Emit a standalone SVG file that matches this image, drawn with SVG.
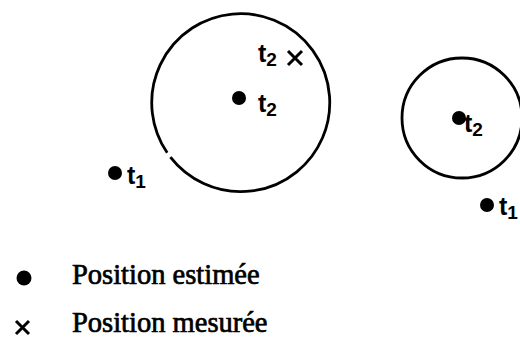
<svg xmlns="http://www.w3.org/2000/svg" width="520" height="342" viewBox="0 0 520 342">
<style>
.c{fill:none;stroke:#000;stroke-width:2.8}
.d{fill:#000}
.x{stroke:#000;stroke-width:3;stroke-linecap:butt}
.lb{font-family:"Liberation Sans","DejaVu Sans",sans-serif;font-size:25px;font-weight:bold;fill:#000}
.sub{font-size:19px}
.lg{font-family:"Liberation Serif","Times New Roman",serif;font-size:28.5px;fill:#000;stroke:#000;stroke-width:0.7}
</style>
<rect width="520" height="342" fill="#fff"/>
<g id="connectors"></g>
<g id="big-circle">
<path class="c" d="M 167.2 152.8 A 89 89 0 1 1 170.4 157.2"/>
</g>
<g id="measured-t2">
<text class="lb" x="258" y="62">t<tspan class="sub" dy="4">2</tspan></text>
<path class="x" d="M288 51 L302 65 M302 51 L288 65"/>
</g>
<g id="estimated-t2-big">
<circle class="d" cx="239" cy="98" r="7"/>
<text class="lb" x="258" y="112">t<tspan class="sub" dy="4">2</tspan></text>
</g>
<g id="estimated-t1-left">
<circle class="d" cx="115" cy="173" r="7"/>
<text class="lb" x="127" y="184">t<tspan class="sub" dy="4">1</tspan></text>
</g>
<g id="small-circle">
<circle class="c" cx="462" cy="118" r="60"/>
</g>
<g id="estimated-t2-small">
<circle class="d" cx="459" cy="118" r="7"/>
<text class="lb" x="464" y="132">t<tspan class="sub" dy="4">2</tspan></text>
</g>
<g id="estimated-t1-right">
<circle class="d" cx="487" cy="205" r="7"/>
<text class="lb" x="499" y="215">t<tspan class="sub" dy="4">1</tspan></text>
</g>
<g id="legend">
<circle class="d" cx="24" cy="278" r="7.5"/>
<text class="lg" x="72" y="284">Position estimée</text>
<path class="x" d="M16 321 L29 334 M29 321 L16 334"/>
<text class="lg" x="72" y="332">Position mesurée</text>
</g>
</svg>
